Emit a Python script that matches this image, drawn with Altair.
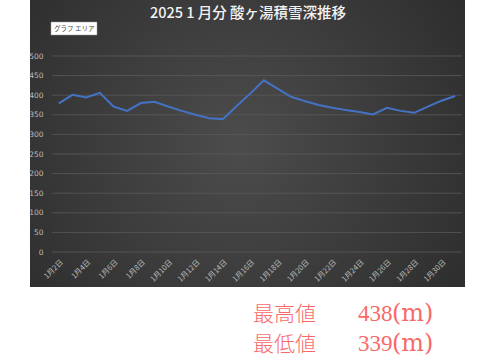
import altair as alt
import pandas as pd

dates = ["1月2日", "1月3日", "1月4日", "1月5日", "1月6日", "1月7日", "1月8日", "1月9日",
         "1月10日", "1月11日", "1月12日", "1月13日", "1月14日", "1月15日", "1月16日",
         "1月17日", "1月18日", "1月19日", "1月20日", "1月21日", "1月22日", "1月23日",
         "1月24日", "1月25日", "1月26日", "1月27日", "1月28日", "1月29日", "1月30日",
         "1月31日"]
depth = [379, 401, 394, 406, 371, 360, 380, 383, 371, 360, 350, 341, 339, 372, 404,
         438, 417, 396, 385, 375, 368, 362, 357, 351, 368, 360, 355, 371, 386, 398]
x_tick_labels = dates[::2]
y_ticks = list(range(0, 501, 50))
title_text = "2025 1 月分 酸ヶ湯積雪深推移"
stat_labels = ["最高値", "最低値"]

W, H = 410, 196
LABEL_COLOR = "#bdbdbd"

df = pd.DataFrame({"date": dates, "depth": depth})
grid_df = pd.DataFrame({"v": y_ticks})
one = pd.DataFrame({"a": [0]})

y_axis = alt.Axis(title=None, values=y_ticks, labelFontSize=7.5,
                  labelColor=LABEL_COLOR, labelFont="DejaVu Sans",
                  labelPadding=9, labelOverlap=False, labelFlush=False,
                  ticks=False, domain=False, grid=False, zindex=1)
y_scale = alt.Scale(domain=[0, 500])

bg = alt.Chart(one).mark_rect(
    color=alt.RadialGradient(
        gradient="radial",
        stops=[alt.GradientStop(offset=0, color="#4c4c4c"),
               alt.GradientStop(offset=1, color="#272727")],
        x1=0.48, y1=0.5, r1=0, x2=0.48, y2=0.5, r2=0.75,
    )
).encode(x=alt.value(-22), x2=alt.value(413), y=alt.value(-56), y2=alt.value(231))

grid = alt.Chart(grid_df).mark_rule(color="#5a5a5a", strokeWidth=0.8).encode(
    y=alt.Y("v:Q", scale=y_scale, axis=y_axis),
    x=alt.value(0), x2=alt.value(W),
)

line = alt.Chart(df).mark_line(color="#4472C4", strokeWidth=2).encode(
    x=alt.X("date:O", sort=dates, scale=alt.Scale(type="point", padding=0.5),
            axis=alt.Axis(title=None, values=x_tick_labels, labelAngle=-45,
                          labelFontSize=7.5, labelColor=LABEL_COLOR,
                          labelFont="Noto Sans CJK JP", labelPadding=6,
                          labelOverlap=False,
                          ticks=False, domain=False, grid=False, zindex=1)),
    y=alt.Y("depth:Q", scale=y_scale, axis=y_axis),
)

title = alt.Chart(one).mark_text(
    text=title_text, font="Noto Sans CJK JP", fontSize=14.5, fontWeight=500,
    color="#f2f2f2", align="center", baseline="alphabetic",
).encode(x=alt.value(196), y=alt.value(-38))

tip_box = alt.Chart(one).mark_rect(color="#ffffff", stroke="#9a9a9a", strokeWidth=0.5).encode(
    x=alt.value(-1), x2=alt.value(45), y=alt.value(-34), y2=alt.value(-21))
tip_text = alt.Chart(one).mark_text(
    text="グラフ エリア", font="Noto Sans CJK JP", fontSize=6.5, color="#444444",
    align="left", baseline="middle").encode(x=alt.value(2), y=alt.value(-27.5))

RED = "#f86a6a"
texts = []
for i, (lab, val) in enumerate(zip(stat_labels, [max(depth), min(depth)])):
    yb = 265 + 30 * i
    texts.append(alt.Chart(one).mark_text(
        text=lab, font="Noto Sans CJK JP", fontSize=21, fontWeight=300, color=RED,
        align="left", baseline="alphabetic").encode(x=alt.value(201), y=alt.value(yb)))
    texts.append(alt.Chart(one).mark_text(
        text=str(val), font="Liberation Serif", fontSize=23, color=RED,
        align="left", baseline="alphabetic").encode(x=alt.value(306), y=alt.value(yb)))
    texts.append(alt.Chart(one).mark_text(
        text="(m)", font="DejaVu Serif", fontSize=24, color=RED,
        align="left", baseline="alphabetic").encode(x=alt.value(340), y=alt.value(yb)))

chart = alt.layer(bg, grid, line, title, tip_box, tip_text, *texts).properties(
    width=W, height=H,
    autosize=alt.AutoSizeParams(type="none"),
    padding={"left": 52, "top": 56, "right": 18, "bottom": 108},
    background="#ffffff",
).configure_view(stroke=None)

chart.save("out.html", embed_options={"renderer": "svg", "actions": False})
